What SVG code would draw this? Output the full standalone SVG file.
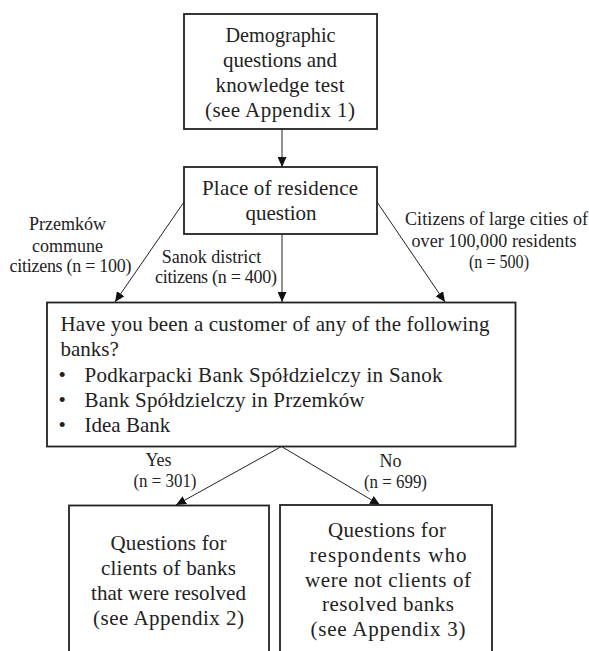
<svg xmlns="http://www.w3.org/2000/svg" width="589" height="651" viewBox="0 0 589 651">
<defs>
<style>
.box{fill:#fff;stroke:#222;stroke-width:1.8}
.t{font-family:"Liberation Serif","Times New Roman",serif;font-size:21px;fill:#222;text-anchor:middle}
.tl{font-family:"Liberation Serif","Times New Roman",serif;font-size:21px;fill:#222}
.lb{font-family:"Liberation Serif","Times New Roman",serif;font-size:18px;fill:#222;text-anchor:middle}
.c{stroke:#222;stroke-width:1;fill:none;marker-end:url(#ah)}
</style>
<marker id="ah" markerUnits="userSpaceOnUse" markerWidth="10" markerHeight="9" refX="10" refY="4.5" orient="auto">
<path d="M0,0 L10,4.5 L0,9 z" fill="#111"/>
</marker>
</defs>
<rect width="589" height="651" fill="#fff"/>
<g id="connectors">
<line class="c" x1="282" y1="129" x2="282" y2="167"/>
<line class="c" x1="184" y1="202" x2="115" y2="302"/>
<line class="c" x1="282" y1="234" x2="282" y2="302"/>
<line class="c" x1="377" y1="202" x2="445" y2="302"/>
<line class="c" x1="281.5" y1="446.5" x2="176" y2="505"/>
<line class="c" x1="281.5" y1="446.5" x2="380" y2="505"/>
</g>
<g id="node-demographic">
<rect class="box" x="184" y="14" width="193" height="115"/>
<text class="t" x="280.5" y="41.7" textLength="110" lengthAdjust="spacingAndGlyphs">Demographic</text>
<text class="t" x="280" y="66.7" textLength="114" lengthAdjust="spacing">questions  and</text>
<text class="t" x="280" y="91.7" textLength="129" lengthAdjust="spacing">knowledge  test</text>
<text class="t" x="280" y="116.7" textLength="150" lengthAdjust="spacing">(see Appendix  1)</text>
</g>
<g id="node-residence">
<rect class="box" x="184" y="167" width="193" height="67"/>
<text class="t" x="280" y="195" textLength="156" lengthAdjust="spacing">Place of residence</text>
<text class="t" x="281" y="220">question</text>
</g>
<g id="node-banks">
<rect class="box" x="47" y="302.5" width="468.5" height="144"/>
<text class="tl" x="60.5" y="331" textLength="429" lengthAdjust="spacing">Have you been a customer of any of the following</text>
<text class="tl" x="60.5" y="356">banks?</text>
<text class="tl" x="58.5" y="382">•</text>
<text class="tl" x="84.5" y="382" textLength="358" lengthAdjust="spacing">Podkarpacki Bank Spółdzielczy  in Sanok</text>
<text class="tl" x="58.5" y="406.5">•</text>
<text class="tl" x="84.5" y="406.5" textLength="280" lengthAdjust="spacing">Bank Spółdzielczy  in Przemków</text>
<text class="tl" x="58.5" y="432">•</text>
<text class="tl" x="84.5" y="432">Idea Bank</text>
</g>
<g id="node-yes">
<rect class="box" x="69" y="505.5" width="200" height="200"/>
<text class="t" x="168.5" y="550" textLength="116" lengthAdjust="spacing">Questions  for</text>
<text class="t" x="168.5" y="575" textLength="135" lengthAdjust="spacing">clients  of banks</text>
<text class="t" x="168.5" y="600" textLength="155" lengthAdjust="spacing">that were resolved</text>
<text class="t" x="168.5" y="625" textLength="151" lengthAdjust="spacing">(see Appendix  2)</text>
</g>
<g id="node-no">
<rect class="box" x="280" y="505" width="212" height="200"/>
<text class="t" x="387" y="536.7" textLength="118" lengthAdjust="spacing">Questions  for</text>
<text class="t" x="388" y="561.7" textLength="157" lengthAdjust="spacing">respondents  who</text>
<text class="t" x="388" y="586.7" textLength="166" lengthAdjust="spacing">were not clients  of</text>
<text class="t" x="388" y="611" textLength="132" lengthAdjust="spacing">resolved  banks</text>
<text class="t" x="388" y="636" textLength="155" lengthAdjust="spacing">(see Appendix  3)</text>
</g>
<g id="labels">
<text class="lb" x="67.5" y="230">Przemków</text>
<text class="lb" x="67.5" y="251.7">commune</text>
<text class="lb" x="70.5" y="271.7" textLength="122" lengthAdjust="spacing">citizens  (n = 100)</text>
<text class="lb" x="211.5" y="263.3">Sanok district</text>
<text class="lb" x="216" y="283.3" textLength="122" lengthAdjust="spacing">citizens  (n = 400)</text>
<text class="lb" x="496.5" y="225" textLength="183" lengthAdjust="spacing">Citizens of large cities of</text>
<text class="lb" x="494" y="246.7" textLength="165" lengthAdjust="spacing">over 100,000  residents</text>
<text class="lb" x="499" y="268" textLength="60" lengthAdjust="spacingAndGlyphs">(n = 500)</text>
<text class="lb" x="158.5" y="465.5">Yes</text>
<text class="lb" x="165" y="486.7" textLength="63" lengthAdjust="spacingAndGlyphs">(n = 301)</text>
<text class="lb" x="390.5" y="466.7">No</text>
<text class="lb" x="395.5" y="488" textLength="63" lengthAdjust="spacingAndGlyphs">(n = 699)</text>
</g>
</svg>
